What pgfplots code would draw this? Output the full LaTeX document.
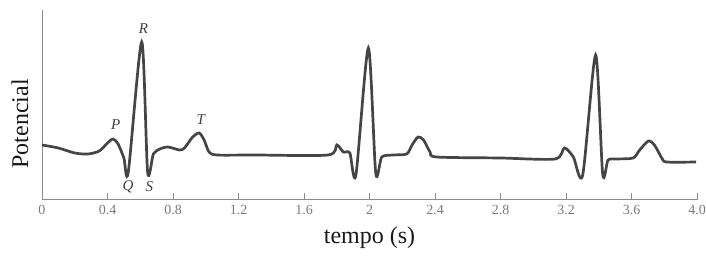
\documentclass[border=0pt]{standalone}
\usepackage{pgfplots}
\pgfplotsset{compat=1.18}
\usepackage{fontspec}
\setmainfont{Liberation Serif}
\definecolor{ecg}{HTML}{454545}
\definecolor{axisgray}{HTML}{8C8C8C}
\definecolor{ticktext}{HTML}{7A7A7A}
\begin{document}
\begin{tikzpicture}
\begin{axis}[
  at={(42pt,64pt)}, anchor=south west,
  scale only axis, width=655pt, height=190pt,
  xmin=0, xmax=4, ymin=0, ymax=190,
  axis x line=bottom, axis y line=left,
  axis line style={axisgray, line width=1pt, -},
  ytick=\empty,
  xtick={0,0.4,0.8,1.2,1.6,2,2.4,2.8,3.2,3.6,4.0},
  xticklabels={0,0.4,0.8,1.2,1.6,2,2.4,2.8,3.2,3.6,4.0},
  tick align=inside, major tick length=7pt,
  major tick style={draw=axisgray, line width=1pt},
  x tick label style={font=\fontsize{14}{14}\selectfont, text=ticktext, yshift=-2pt},
  /pgf/number format/assume math mode=true,
  xlabel={tempo (s)},
  xlabel style={at={(axis description cs:0.5,0)}, anchor=center, yshift=-38pt, font=\fontsize{24}{24}\selectfont, text=black!90},
  clip=false,
]
\addplot[ycomb, axisgray, line width=1pt, mark=none] coordinates {
(0.4,7) (0.8,7) (1.2,7) (1.6,7) (2,7) (2.4,7) (2.8,7) (3.2,7) (3.6,7) (4.0,7)
};
\addplot[ecg, line width=2.7pt, smooth, tension=0.45] coordinates {
(0,55) (0.1,52) (0.2,47) (0.28,46) (0.35,49) (0.40,57) (0.434,61) (0.465,56)
(0.50,42) (0.527,28) (0.609,158) (0.645,28) (0.68,46) (0.72,51) (0.77,53)
(0.84,50) (0.87,52) (0.92,63) (0.96,67) (0.99,60) (1.02,48) (1.07,45)
(1.3,45) (1.747,45) (1.80,55) (1.84,48) (1.88,47) (1.917,25) (1.993,152)
(2.038,27) (2.075,43) (2.145,45) (2.227,46) (2.26,55) (2.296,63) (2.33,60)
(2.37,48) (2.41,43) (2.8,42) (3.133,41) (3.19,52) (3.245,43) (3.302,25)
(3.381,145) (3.424,26) (3.457,40) (3.51,41) (3.61,42) (3.65,50) (3.703,59)
(3.74,55) (3.785,42) (3.815,38) (3.994,38)
};
\node[font=\fontsize{15}{15}\selectfont\itshape, text=black!75] at (axis cs:0.45,75) {P};
\node[font=\fontsize{15}{15}\selectfont\itshape, text=black!75] at (axis cs:0.62,171) {R};
\node[font=\fontsize{15}{15}\selectfont\itshape, text=black!75] at (axis cs:0.97,80) {T};
\node[font=\fontsize{15}{15}\selectfont\itshape, text=black!75] at (axis cs:0.525,13) {Q};
\node[font=\fontsize{15}{15}\selectfont\itshape, text=black!75] at (axis cs:0.655,13) {S};
\node[rotate=90, anchor=center, font=\fontsize{24}{24}\selectfont, text=black!90] at ([xshift=-22pt]axis description cs:0,0.4) {Potencial};
\end{axis}
\pgfresetboundingbox
\useasboundingbox (0,0) rectangle (706pt,264pt);
\end{tikzpicture}
\end{document}
